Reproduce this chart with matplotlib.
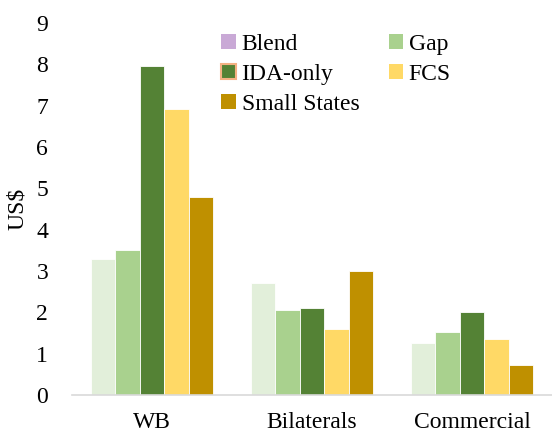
import numpy as np
import matplotlib.pyplot as plt
from matplotlib.patches import Patch

plt.rcParams['font.family'] = ['Liberation Serif', 'DejaVu Serif']

categories = ['WB', 'Bilaterals', 'Commercial']
series = ['Blend', 'Gap', 'IDA-only', 'FCS', 'Small States']
blend = [3.28, 2.7, 1.26]
gap = [3.52, 2.05, 1.53]
ida_only = [7.95, 2.1, 2.0]
fcs = [6.93, 1.6, 1.35]
small_states = [4.8, 3.0, 0.72]

values = [blend, gap, ida_only, fcs, small_states]
bar_colors = ['#E2EFDA', '#A9D18E', '#548235', '#FFD966', '#BF9000']
legend_colors = ['#C9A9D6', '#A9D18E', '#548235', '#FFD966', '#BF9000']

fig = plt.figure(figsize=(5.52, 4.36), dpi=100)
ax = fig.add_axes([0.13, 0.094, 0.87, 0.853])

x = np.arange(len(categories))
w = 0.153
for i, vals in enumerate(values):
    ax.bar(x + (i - 2) * w, vals, width=w, color=bar_colors[i],
           edgecolor='white', linewidth=0.6, zorder=2)

ax.set_xlim(-0.5, 2.5)
ax.set_ylim(0, 9)
ax.set_yticks(range(10))
ax.set_xticks(x)
ax.set_xticklabels(categories)
ax.tick_params(axis='both', length=0, labelsize=17)
ax.tick_params(axis='x', pad=12)
ax.tick_params(axis='y', pad=17)
ax.set_ylabel('US$', fontsize=17, labelpad=6)

for side in ['top', 'right', 'left']:
    ax.spines[side].set_visible(False)
ax.spines['bottom'].set_color('#D9D9D9')
ax.spines['bottom'].set_linewidth(1.2)

handles = []
for name, c in zip(series, legend_colors):
    if name == 'IDA-only':
        handles.append(Patch(facecolor=c, edgecolor='#F4B183', linewidth=1.5, label=name))
    else:
        handles.append(Patch(facecolor=c, label=name))
order = [0, 2, 4, 1, 3]
ax.legend([handles[k] for k in order], [series[k] for k in order], ncol=2,
          loc='upper left', bbox_to_anchor=(0.292, 0.997), frameon=False,
          fontsize=17, handlelength=0.6, handleheight=0.6, handletextpad=0.25,
          columnspacing=1.25, labelspacing=0.38, borderaxespad=0.0)

fig.savefig('out.png')
